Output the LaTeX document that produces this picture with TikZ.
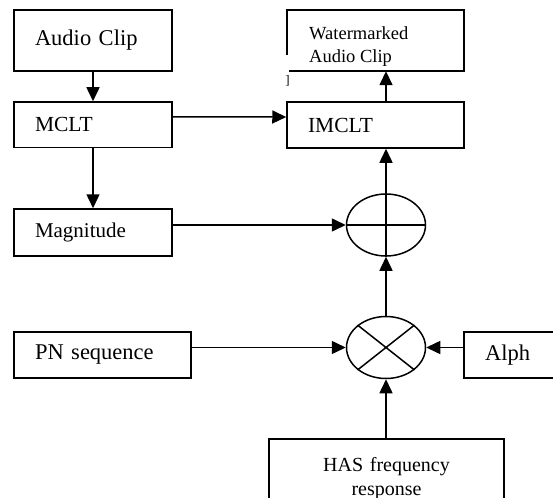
\documentclass[tikz,border=0pt]{standalone}
\usepackage{fontspec}
\setmainfont{Liberation Serif}
\usetikzlibrary{shapes.geometric,arrows.meta}
\begin{document}
\begin{tikzpicture}[x=1pt,y=-1pt,
	box/.style={draw,line width=1.5pt,inner xsep=21pt,inner ysep=0pt,align=left},
	sum/.style={ellipse,draw,line width=1.5pt,minimum width=79pt,minimum height=62pt,inner sep=0pt},
	arr/.style={-{Triangle[length=14pt,width=13pt]},line width=1.5pt}]
\useasboundingbox (0,0) rectangle (553,497);
\clip (0,0) rectangle (553,497);
% left column
\node[box,text width=116pt,minimum height=61pt,font=\fontsize{22.5}{27}\selectfont] (audio) at (93,40.5) {Audio Clip};
\node[box,text width=116pt,minimum height=45.5pt,font=\fontsize{21.5}{26}\selectfont] (mclt) at (93,124.75) {MCLT};
\node[box,text width=116pt,minimum height=47pt,font=\fontsize{21}{25}\selectfont] (mag) at (93,232.5) {Magnitude};
\node[box,text width=135pt,minimum height=46pt,font=\fontsize{22.5}{27}\selectfont] (pn) at (102.5,355) {PN sequence};
% right column
\node[minimum width=177pt,minimum height=61pt,inner sep=0pt] (wm) at (375.5,40.5) {};
\draw[line width=1.5pt] ([yshift=16pt]wm.south west) -- (wm.north west) -- (wm.north east) -- (wm.south east) -- ([xshift=2pt]wm.south west);
\node[anchor=north west,align=left,inner sep=0pt,font=\fontsize{18.5}{23}\selectfont] (wmtext) at (309,26.5) {Watermarked\\Audio Clip};
\node[font=\fontsize{13}{15}\selectfont,inner sep=0pt] (brk) at (287.5,80.5) {]};
\node[box,text width=135pt,minimum height=46pt,font=\fontsize{21.5}{26}\selectfont] (imclt) at (375.5,125) {IMCLT};
\node[sum] (plus) at (386,225) {};
\draw[line width=1.5pt] (plus.north) -- (plus.south) (plus.west) -- (plus.east);
\node[sum] (times) at (386,347.5) {};
\draw[line width=1.5pt] (times.north west) -- (times.south east) (times.north east) -- (times.south west);
\node[box,text width=98pt,minimum height=46pt,font=\fontsize{22.5}{27}\selectfont] (alph) at (534,355) {Alph};
\node[box,align=center,text width=193pt,minimum height=80pt,font=\fontsize{20}{24}\selectfont] (has) at (386.5,479) {HAS frequency\\response};
% connectors
\draw[arr] (audio) -- (mclt);
\draw[arr] (mclt) -- (mag);
\draw[arr] ([yshift=8pt]mclt.east) -- ([yshift=8pt]imclt.west);
\draw[arr] (mag.east |- plus) -- (plus.west);
\draw[arr] (plus.north) -- (plus |- imclt.south);
\draw[arr] (imclt.north -| plus) -- (wm.south -| plus);
\draw[arr] (times.north) -- (plus.south);
\draw[arr] (pn.east |- times) -- (times.west);
\draw[arr] (alph.west |- times) -- (times.east);
\draw[arr] (has.north -| times) -- (times.south);
\end{tikzpicture}
\end{document}
